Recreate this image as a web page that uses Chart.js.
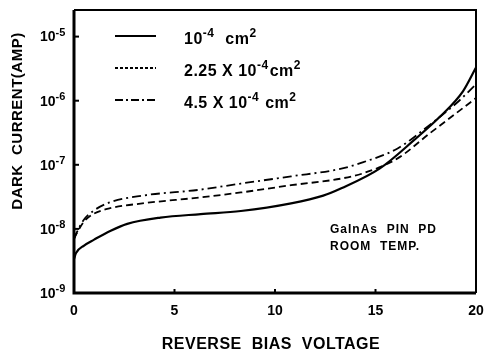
<!DOCTYPE html>
<html>
<head>
<meta charset="utf-8">
<script src="https://cdn.jsdelivr.net/npm/chart.js@4"></script>
<style>
  html, body { margin: 0; padding: 0; background: #fff; }
  #wrap { width: 484px; height: 356px; }
</style>
</head>
<body>
<div id="wrap"><canvas id="myChart" width="484" height="356"></canvas></div>
<script>
// reverse bias voltage (V) and dark current (A)
const voltsA = [0, 0.1, 0.5, 1, 1.8, 2.65, 4.3, 6.3, 8.3, 10.8, 12.4, 13.3, 15.2, 16.9, 18.2, 19.35, 20];
const currentA = [3.4e-9, 4.2e-9, 5.5e-9, 6.8e-9, 9.3e-9, 1.2e-8, 1.5e-8, 1.7e-8, 1.9e-8, 2.5e-8, 3.3e-8, 4.3e-8, 8.7e-8, 2.4e-7, 5.6e-7, 1.4e-6, 3.3e-6];

const voltsB = [0, 0.15, 0.5, 0.95, 1.8, 3.4, 6.3, 8.3, 10.8, 13.3, 14.4, 16.1, 17.7, 19.05, 20];
const currentB = [7e-9, 8.7e-9, 1.3e-8, 1.7e-8, 2.1e-8, 2.5e-8, 3.1e-8, 3.7e-8, 4.8e-8, 6.1e-8, 7.4e-8, 1.26e-7, 3.1e-7, 6.5e-7, 1.1e-6];

const voltsC = [0, 0.15, 0.5, 0.95, 1.8, 3.4, 6.3, 8.3, 10.8, 13.3, 14.4, 16.1, 17.7, 19.05, 20];
const currentC = [7e-9, 9e-9, 1.4e-8, 1.9e-8, 2.6e-8, 3.3e-8, 4.1e-8, 5.1e-8, 6.6e-8, 8.7e-8, 1.1e-7, 1.8e-7, 4.2e-7, 9.3e-7, 1.8e-6];

const xTicks = [0, 5, 10, 15, 20];
const yDecades = [1e-9, 1e-8, 1e-7, 1e-6, 1e-5];

// legend text pieces: [text, superscript?]
const legendA = [["10", 0], ["-4", 1], ["  cm", 0], ["2", 1]];
const legendB = [["2.25 X 10", 0], ["-4", 1], ["cm", 0], ["2", 1]];
const legendC = [["4.5 X 10", 0], ["-4", 1], [" cm", 0], ["2", 1]];

const note = ["GaInAs  PIN  PD", "ROOM  TEMP."];
const xTitle = "REVERSE  BIAS  VOLTAGE";
const yTitle = "DARK  CURRENT(AMP)";

const FONT = "'Liberation Sans', Arial, sans-serif";

function pts(xs, ys) {
  return xs.map((x, i) => ({ x: x, y: ys[i] }));
}

function richText(ctx, parts, x, y, size, supSize, lift) {
  let cx = x;
  parts.forEach(p => {
    ctx.font = "bold " + (p[1] ? supSize : size) + "px " + FONT;
    ctx.fillText(p[0], cx, p[1] ? y - lift : y);
    cx += ctx.measureText(p[0]).width + (p[1] ? 1 : 0);
  });
}

// frame, inward ticks, y labels, titles, legend and note
const extras = {
  id: "extras",
  afterDraw(chart) {
    const { ctx, chartArea: a, scales } = chart;
    ctx.save();
    ctx.strokeStyle = "#000";
    ctx.fillStyle = "#000";
    ctx.setLineDash([]);

    // thin top/right, heavy left/bottom
    ctx.lineWidth = 2;
    ctx.beginPath();
    ctx.moveTo(a.left, a.top);
    ctx.lineTo(a.right, a.top);
    ctx.lineTo(a.right, a.bottom);
    ctx.stroke();
    ctx.lineWidth = 3;
    ctx.beginPath();
    ctx.moveTo(a.left, a.top);
    ctx.lineTo(a.left, a.bottom);
    ctx.lineTo(a.right, a.bottom);
    ctx.stroke();

    ctx.lineWidth = 2;
    yDecades.slice(1).forEach(v => {
      const py = scales.y.getPixelForValue(v);
      ctx.beginPath();
      ctx.moveTo(a.left, py);
      ctx.lineTo(a.left + 5, py);
      ctx.stroke();
    });
    xTicks.slice(1, -1).forEach(v => {
      const px = scales.x.getPixelForValue(v);
      ctx.beginPath();
      ctx.moveTo(px, a.bottom);
      ctx.lineTo(px, a.bottom - 4);
      ctx.stroke();
    });

    // y tick labels as 10 with a raised exponent
    ctx.textBaseline = "middle";
    yDecades.forEach(v => {
      const py = scales.y.getPixelForValue(v);
      const e = String(Math.round(Math.log10(v)));
      richText(ctx, [["10", 0], [e, 1]], 40, py + 1, 14, 11, 5);
    });

    // axis titles
    ctx.letterSpacing = "0.5px";
    ctx.font = "bold 16px " + FONT;
    ctx.textAlign = "center";
    ctx.fillText(xTitle, 271, 345);
    ctx.save();
    ctx.translate(18, 121);
    ctx.rotate(-Math.PI / 2);
    ctx.font = "bold 15px " + FONT;
    ctx.fillText(yTitle, 0, 0);
    ctx.restore();
    ctx.textAlign = "left";

    // legend
    const rows = [legendA, legendB, legendC];
    chart.data.datasets.forEach((ds, i) => {
      const ly = 36 + i * 32;
      ctx.lineWidth = ds.borderWidth;
      ctx.setLineDash(ds.legendDash);
      ctx.beginPath();
      ctx.moveTo(115, ly);
      ctx.lineTo(156, ly);
      ctx.stroke();
      ctx.setLineDash([]);
      richText(ctx, rows[i], 184, ly + 4, 16, 12, 6);
    });

    // note
    ctx.letterSpacing = "1px";
    ctx.font = "bold 12px " + FONT;
    ctx.fillText(note[0], 330, 230);
    ctx.fillText(note[1], 330, 247);
    ctx.restore();
  }
};

const ctx = document.getElementById("myChart");

new Chart(ctx, {
  type: "line",
  data: {
    datasets: [
      {
        label: "10-4 cm2",
        data: pts(voltsA, currentA),
        borderColor: "#000",
        borderWidth: 2.2,
        borderDash: [],
        legendDash: [],
      },
      {
        label: "2.25 X 10-4 cm2",
        data: pts(voltsB, currentB),
        borderColor: "#000",
        borderWidth: 1.8,
        borderDash: [7, 4],
        legendDash: [3, 2],
      },
      {
        label: "4.5 X 10-4 cm2",
        data: pts(voltsC, currentC),
        borderColor: "#000",
        borderWidth: 1.8,
        borderDash: [9, 4, 2, 4],
        legendDash: [8, 3, 2, 3],
      },
    ],
  },
  options: {
    responsive: false,
    animation: false,
    devicePixelRatio: 1,
    layout: { padding: { left: 0, right: 8, top: 10, bottom: 0 } },
    elements: {
      point: { radius: 0 },
      line: { cubicInterpolationMode: "monotone", fill: false },
    },
    plugins: {
      legend: { display: false },
      tooltip: { enabled: false },
    },
    scales: {
      x: {
        type: "linear",
        min: 0,
        max: 20,
        afterBuildTicks: s => { s.ticks = xTicks.map(v => ({ value: v })); },
        afterFit: s => { s.height = 63; s.paddingLeft = 0; s.paddingRight = 0; },
        grid: { display: false, drawTicks: false },
        border: { display: false },
        ticks: {
          padding: 10,
          color: "#000",
          font: { family: FONT, size: 14, weight: "bold" },
        },
      },
      y: {
        type: "logarithmic",
        min: 1e-9,
        max: 2.6e-5,
        afterBuildTicks: s => { s.ticks = yDecades.map(v => ({ value: v })); },
        afterFit: s => { s.width = 74; },
        grid: { display: false, drawTicks: false },
        border: { display: false },
        ticks: { display: false },
      },
    },
  },
  plugins: [extras],
});
</script>
</body>
</html>
